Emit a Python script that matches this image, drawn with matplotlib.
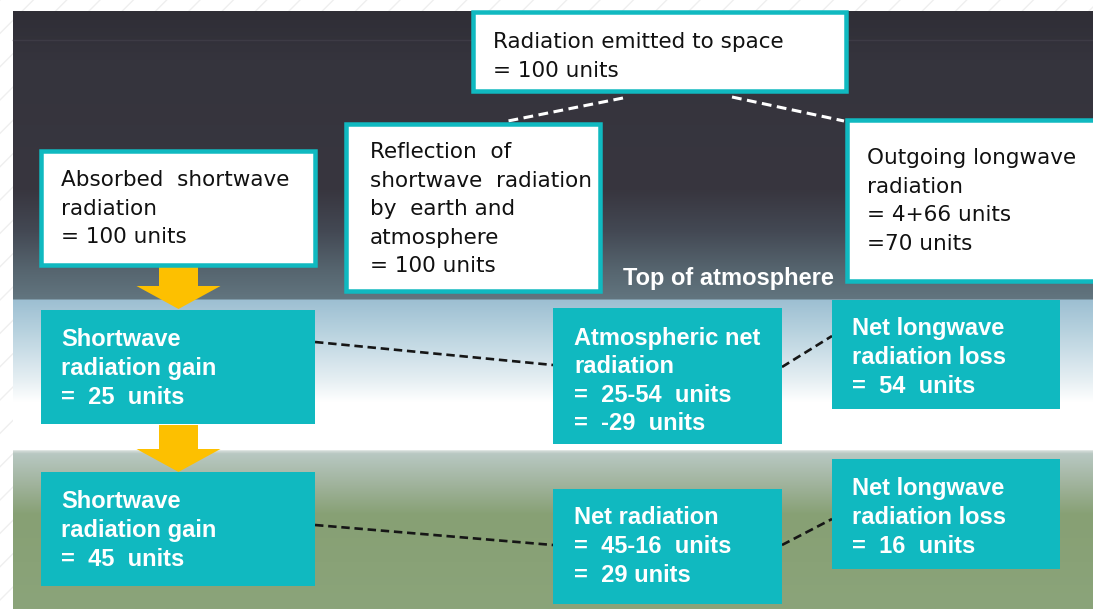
import matplotlib.pyplot as plt
import matplotlib.patches as mpatches
import numpy as np
from matplotlib.colors import to_rgb

# box texts
top_text = ["Radiation emitted to space", "= 100 units"]
absorbed_text = ["Absorbed  shortwave", "radiation", "= 100 units"]
reflect_text = ["Reflection  of", "shortwave  radiation", "by  earth and", "atmosphere", "= 100 units"]
outgoing_text = ["Outgoing longwave", "radiation", "= 4+66 units", "=70 units"]
atm_gain_text = ["Shortwave", "radiation gain", "=  25  units"]
sfc_gain_text = ["Shortwave", "radiation gain", "=  45  units"]
atm_net_text = ["Atmospheric net", "radiation", "=  25-54  units", "=  -29  units"]
sfc_net_text = ["Net radiation", "=  45-16  units", "=  29 units"]
atm_loss_text = ["Net longwave", "radiation loss", "=  54  units"]
sfc_loss_text = ["Net longwave", "radiation loss", "=  16  units"]
toa_label = "Top of atmosphere"

TEAL = "#10b9c0"
GOLD = "#fdc000"
BOLD_FONT = ["Liberation Sans", "DejaVu Sans"]
W, H = 1093, 609

fig = plt.figure(figsize=(W / 100, H / 100), dpi=100)
ax = fig.add_axes([0, 0, 1, 1])
ax.set_xlim(0, W)
ax.set_ylim(H, 0)
ax.axis("off")

# hatched white margin
ax.add_patch(mpatches.Rectangle((0, 0), W, H, facecolor="white",
                                edgecolor="#efefef", hatch="/", linewidth=0))

# background gradient (space -> sky -> ground)
stops = [(11, "#2f2e36"), (60, "#35343d"), (190, "#38363f"), (230, "#434853"),
         (270, "#56656f"), (299, "#62757f"), (300, "#9dbfd2"), (330, "#b6d1de"),
         (380, "#e6eff3"), (402, "#ffffff"), (450, "#ffffff"), (451, "#d5dcd9"),
         (454, "#b8c8c2"), (485, "#a0b39c"), (515, "#87a074"), (609, "#8ba47a")]
ys = np.arange(11, H + 1)
sy = [s[0] for s in stops]
cols = np.array([to_rgb(s[1]) for s in stops])
grad = np.stack([np.interp(ys, sy, cols[:, k]) for k in range(3)], axis=-1)
img = np.repeat(grad[:, None, :], 2, axis=1)
ax.imshow(img, extent=(13, W, H, 11), aspect="auto", interpolation="bilinear", zorder=1)
ax.plot([13, W], [40, 40], color="#3d3b45", lw=1, zorder=1.5)


def box(x0, y0, x1, y1, white):
    if white:
        b = 4.5
        ax.add_patch(mpatches.Rectangle((x0 + b / 2, y0 + b / 2), x1 - x0 - b, y1 - y0 - b,
                                        facecolor="white", edgecolor=TEAL,
                                        linewidth=b * 0.72, zorder=3))
    else:
        ax.add_patch(mpatches.Rectangle((x0, y0), x1 - x0, y1 - y0,
                                        facecolor=TEAL, edgecolor="none", zorder=3))


def label(x, y, lines, white):
    for i, ln in enumerate(lines):
        if white:
            ax.text(x, y + i * 28.6, ln, ha="left", va="center", fontsize=15.5,
                    color="#111111", zorder=4)
        else:
            ax.text(x, y + i * 28.6, ln, ha="left", va="center", fontsize=17,
                    color="white", fontweight="bold", family=BOLD_FONT, zorder=4)


# dashed connectors
ax.plot([623, 508], [98, 121], ls=(0, (3.2, 1.8)), color="white", lw=2.2, zorder=2)
ax.plot([732, 844], [97, 121], ls=(0, (3.2, 1.8)), color="white", lw=2.2, zorder=2)
dash_k = dict(ls=(0, (3.2, 1.8)), color="#161616", lw=1.9, zorder=2)
ax.plot([315, 553], [342, 365], **dash_k)
ax.plot([782, 832], [367, 336], **dash_k)
ax.plot([315, 553], [525, 545], **dash_k)
ax.plot([782, 832], [545, 519], **dash_k)

# white boxes
box(471, 10, 848, 93, True)
box(39, 149, 317, 267, True)
box(344, 122, 602, 293, True)
box(845, 118, 1100, 283, True)
label(493, 42, top_text, True)
label(61, 180, absorbed_text, True)
label(370, 152, reflect_text, True)
label(867, 158, outgoing_text, True)

ax.text(623, 278, toa_label, ha="left", va="center", fontsize=17,
        color="white", fontweight="bold", family=BOLD_FONT, zorder=4)

# arrows
for y0, y1 in [(266, 309), (425, 472)]:
    ax.add_patch(mpatches.FancyArrow(178.5, y0, 0, y1 - y0, width=39, head_width=84,
                                     head_length=23, length_includes_head=True,
                                     facecolor=GOLD, edgecolor="none", zorder=2.5))

# teal boxes
box(41, 310, 315, 424, False)
box(41, 472, 315, 586, False)
box(553, 308, 782, 444, False)
box(832, 300, 1060, 409, False)
box(553, 489, 782, 604, False)
box(832, 459, 1060, 569, False)
label(61, 340, atm_gain_text, False)
label(61, 502, sfc_gain_text, False)
label(574, 338, atm_net_text, False)
label(852, 329, atm_loss_text, False)
label(574, 518, sfc_net_text, False)
label(852, 489, sfc_loss_text, False)

fig.savefig("out.png", dpi=100)
